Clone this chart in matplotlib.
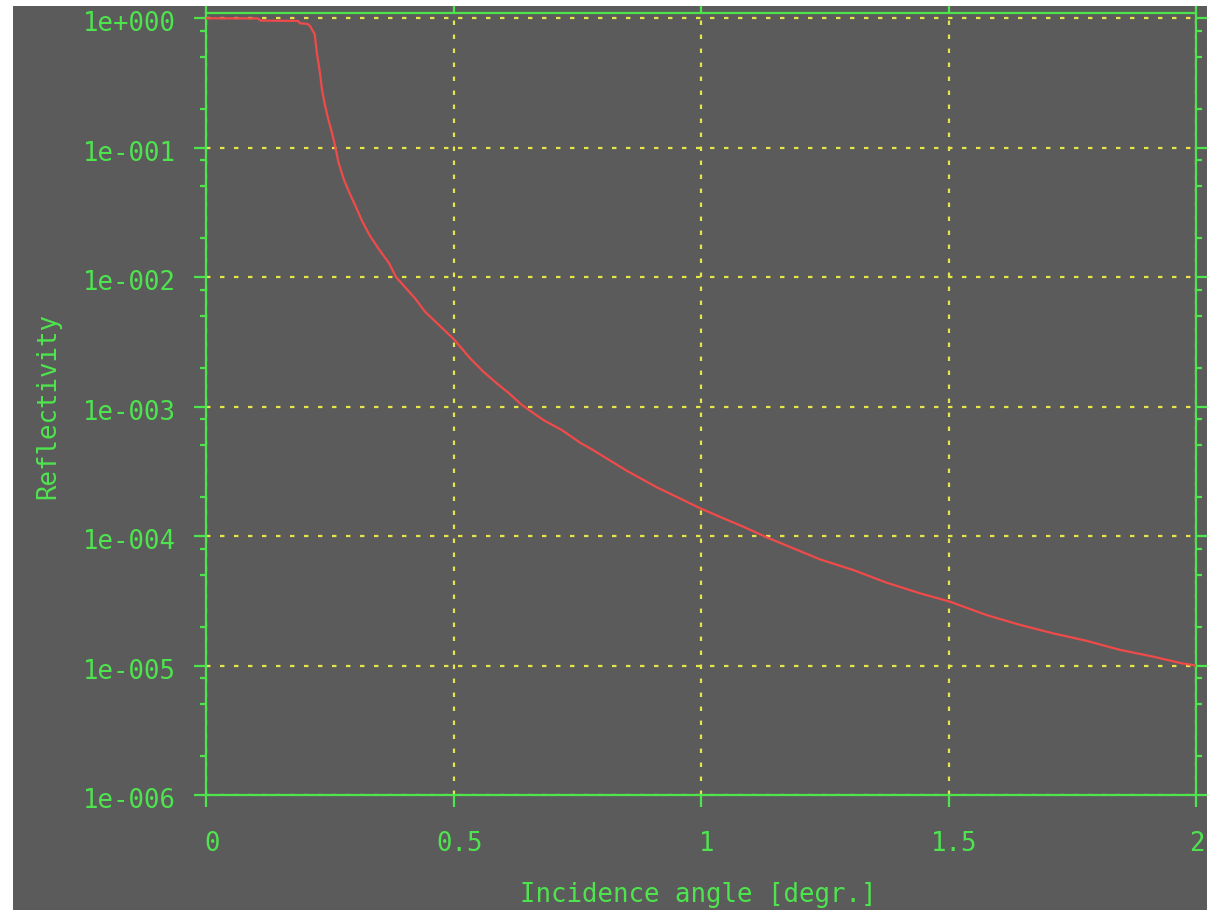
import numpy as np
import matplotlib
matplotlib.use('Agg')
import matplotlib.pyplot as plt
from matplotlib.ticker import FixedLocator, FixedFormatter, LogLocator, NullFormatter
from matplotlib.transforms import ScaledTranslation
from matplotlib.patches import Rectangle

# reflectivity curve
angle = [0.0, 0.105, 0.11, 0.186, 0.19, 0.205, 0.21, 0.2196, 0.2236, 0.2297,
         0.2343, 0.2398, 0.2459, 0.2519, 0.2572, 0.262, 0.268, 0.2788, 0.2909,
         0.303, 0.3145, 0.329, 0.3475, 0.3697, 0.3838, 0.4222, 0.4424, 0.501,
         0.5333, 0.5602, 0.5873, 0.6107, 0.6378, 0.6814, 0.7186, 0.7556, 0.7824,
         0.85, 0.9105, 0.998, 1.045, 1.0855, 1.1327, 1.2404, 1.3077, 1.3752,
         1.4424, 1.503, 1.5772, 1.6444, 1.7117, 1.7792, 1.8465, 1.9137, 1.971, 2.0]
reflectivity = [0.995, 0.993, 0.955, 0.95, 0.91, 0.90, 0.87, 0.75, 0.55, 0.39,
                0.28, 0.217, 0.172, 0.1415, 0.118, 0.0973, 0.0759, 0.0561, 0.0437,
                0.0347, 0.0275, 0.0215, 0.01675, 0.0128, 0.0100, 6.85e-3, 5.4e-3, 3.3e-3,
                2.36e-3, 1.86e-3, 1.51e-3, 1.28e-3, 1.03e-3, 7.87e-4, 6.59e-4, 5.26e-4, 4.6e-4,
                3.19e-4, 2.38e-4, 1.64e-4, 1.37e-4, 1.18e-4, 9.77e-5, 6.6e-5, 5.46e-5, 4.36e-5,
                3.61e-5, 3.11e-5, 2.45e-5, 2.06e-5, 1.77e-5, 1.55e-5, 1.32e-5, 1.17e-5, 1.04e-5, 1.0e-5]

xtick_values = [0, 0.5, 1, 1.5, 2]
xtick_labels = ['0', '0.5', '1', '1.5', '2']
ytick_values = [1e0, 1e-1, 1e-2, 1e-3, 1e-4, 1e-5, 1e-6]
ytick_labels = ['1e+000', '1e-001', '1e-002', '1e-003', '1e-004', '1e-005', '1e-006']

BG = '#5b5b5b'
GREEN = '#4ee44e'
YELLOW = '#e6e64a'
RED = '#f04a4a'
W, H = 1207, 910


def main():
    fig = plt.figure(figsize=(W / 100, H / 100), dpi=100, facecolor=BG)
    ax = fig.add_axes([206 / W, 1 - 795 / H, (1196 - 206) / W, (795 - 12.7) / H])
    ax.set_facecolor(BG)

    ax.plot(angle, reflectivity, color=RED, lw=1.6, zorder=3)

    ax.set_yscale('log')
    ax.set_xlim(0, 2)
    ax.set_ylim(1e-6, 1.099)

    ax.xaxis.set_major_locator(FixedLocator(xtick_values))
    ax.xaxis.set_major_formatter(FixedFormatter(xtick_labels))
    ax.yaxis.set_major_locator(FixedLocator(ytick_values))
    ax.yaxis.set_major_formatter(FixedFormatter(ytick_labels))
    ax.yaxis.set_minor_locator(LogLocator(base=10, subs=(2, 5, 8)))
    ax.yaxis.set_minor_formatter(NullFormatter())

    # gnuplot-like frame and ticks
    for s in ax.spines.values():
        s.set_color(GREEN)
        s.set_linewidth(1.6)
    ax.tick_params(which='both', direction='out', colors=GREEN, width=1.6,
                   top=True, right=True, labeltop=False, labelright=False)
    ax.tick_params(which='major', length=8.6)
    ax.tick_params(which='minor', length=4.4)
    ax.tick_params(axis='y', pad=13)
    ax.tick_params(axis='x', pad=17)

    mono = 'DejaVu Sans Mono'
    for lab in ax.get_xticklabels() + ax.get_yticklabels():
        lab.set_fontfamily(mono)
        lab.set_fontsize(18.5)
        lab.set_color(GREEN)
    xlabs = ax.get_xticklabels()
    for lab in xlabs:
        lab.set_transform(lab.get_transform() + ScaledTranslation(0.06, 0, fig.dpi_scale_trans))
    # last label sits at the canvas edge; nudge it so it stays inside
    xlabs[-1].set_transform(xlabs[-1].get_transform() + ScaledTranslation(-0.05, 0, fig.dpi_scale_trans))
    for lab in ax.get_yticklabels():
        lab.set_transform(lab.get_transform() + ScaledTranslation(0, -0.03, fig.dpi_scale_trans))

    ax.grid(True, which='major', color=YELLOW, lw=1.6, linestyle=(0, (2.0, 4.3)))
    ax.set_axisbelow(True)

    fig.text(48 / W, 1 - 406 / H, 'Reflectivity', rotation=90, ha='center', va='center',
             color=GREEN, fontsize=18.5, family=mono)
    fig.text(698 / W, 1 - 895 / H, 'Incidence angle [degr.]', ha='center', va='center',
             color=GREEN, fontsize=18.5, family=mono)

    # white margins around the gray canvas
    fig.add_artist(Rectangle((0, 1 - 6 / H), 1, 6 / H, transform=fig.transFigure,
                             facecolor='white', edgecolor='none', zorder=10))
    fig.add_artist(Rectangle((0, 0), 13 / W, 1, transform=fig.transFigure,
                             facecolor='white', edgecolor='none', zorder=10))

    fig.savefig('out.png', dpi=100, facecolor=BG)
    plt.close(fig)


if __name__ == "__main__":
    main()
